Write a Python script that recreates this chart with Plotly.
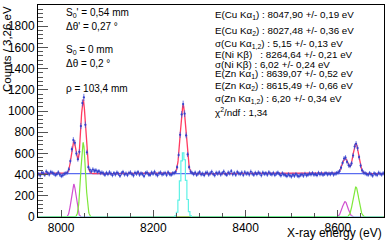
import numpy as np
import plotly.graph_objects as go

# ---------------- data ----------------
E_START = 7950.0
BIN_WIDTH = 3.26
counts = [
    405, 392, 418, 412, 398, 428, 414, 402, 424, 417, 409, 396, 404, 421, 400, 386, 393, 407,
    412, 420, 450, 528, 640, 726, 700, 598, 545, 615, 858, 1075, 1128, 870, 610, 470, 445, 430,
    448, 435, 440, 425, 432, 415, 420,
    411, 398, 416, 405, 422, 409, 394, 413, 402, 419,
    407, 388, 412, 424, 401, 410, 396, 415, 420, 404,
    392, 417, 408, 423, 399, 411, 405, 386, 414, 420,
    402, 397, 418, 409, 425, 403, 393, 412, 419, 401,
    408, 415, 396, 421, 405, 398, 411,
    414, 425, 470, 585, 775, 968, 1065, 975, 770, 590, 470, 428, 415,
    404, 418, 397, 411, 423, 402, 409, 395, 416, 420,
    399, 412, 426, 405, 393, 417, 408, 421, 400, 413,
    428, 406, 397, 419, 410, 432, 403, 415, 398, 424,
    411, 405, 419, 396, 422, 408, 414, 401, 427, 409,
    398, 416, 404, 420, 411, 393, 418, 406, 413, 399,
    421, 407, 402, 415, 396, 410, 418, 404, 392, 412,
    400, 395, 386, 403, 391, 382, 398, 388, 405, 390,
    384, 396, 401, 389, 407, 393, 398, 410, 402, 414,
    399, 405, 395, 416, 403, 411, 398, 407, 413, 402,
    409, 404, 415, 400, 408,
    413, 420, 432, 465, 510, 552, 560, 520, 488, 482, 505, 580, 665, 690, 650, 565, 485, 440, 420, 412,
    405, 398, 414, 402, 390, 411, 404, 396, 417, 408, 400, 412,
]

# fit results (component centres / widths from the stats box, amplitudes)
background = 410
ka1_centres = [8047.90, 8639.07]
ka1_amps = [700, 283]
ka2_centres = [8027.48, 8615.49]
ka2_amps = [310, 145]
ka_sigmas = [5.15, 6.20]
ni_centre = 8264.64
ni_sigma = 6.02
ni_amp = 645

# Ni K-beta component histogram (cyan), starting bin index and values
ni_hist_start = 91
ni_hist_vals = [12, 45, 160, 340, 530, 605, 540, 345, 165, 50, 12]

left_text = ["S<sub>0</sub>' = 0,54 mm", "Δθ' = 0,27 °", "S<sub>0</sub> = 0 mm", "Δθ = 0,2 °", "ρ = 103,4 mm"]
right_text = [
    "E(Cu Kα<sub>1</sub>) : 8047,90 +/- 0,19 eV",
    "E(Cu Kα<sub>2</sub>) : 8027,48 +/- 0,36 eV",
    "σ(Cu Kα<sub>1,2</sub>) : 5,15 +/- 0,13 eV",
    "E(Ni Kβ)\u00a0\u00a0\u00a0: 8264,64 +/- 0,21 eV",
    "σ(Ni Kβ) : 6,02 +/- 0,24 eV",
    "E(Zn Kα<sub>1</sub>) : 8639,07 +/- 0,52 eV",
    "E(Zn Kα<sub>2</sub>) : 8615,49 +/- 0,66 eV",
    "σ(Zn Kα<sub>1,2</sub>) : 6,20 +/- 0,34 eV",
    "χ<sup>2</sup>/ndf : 1,34",
]

# ---------------- figure ----------------
W, H = 387, 241
L, R, T, B = 38, 3, 5, 24
X_RANGE = [7950, 8700]
Y_RANGE = [0, 2000]
PW, PH = W - L - R, H - T - B

n = len(counts)
centres = E_START + BIN_WIDTH * (np.arange(n) + 0.5)

xf = np.linspace(X_RANGE[0], X_RANGE[1], 1500)


def gauss(x, mu, s, a):
    return a * np.exp(-0.5 * ((x - mu) / s) ** 2)


ka1 = sum(gauss(xf, c, s, a) for c, s, a in zip(ka1_centres, ka_sigmas, ka1_amps))
ka2 = sum(gauss(xf, c, s, a) for c, s, a in zip(ka2_centres, ka_sigmas, ka2_amps))
ni = gauss(xf, ni_centre, ni_sigma, ni_amp)
total = background + ka1 + ka2 + ni

ni_hist = [0] * ni_hist_start + ni_hist_vals
ni_hist += [0] * (n - len(ni_hist))

fig = go.Figure()
fig.add_trace(go.Scatter(x=xf, y=[background] * len(xf), mode="lines",
                         line=dict(color="#5a6cf0", width=1.3)))
fig.add_trace(go.Scatter(x=xf, y=ka2, mode="lines", line=dict(color="#d050d0", width=1.2)))
fig.add_trace(go.Scatter(x=xf, y=ka1, mode="lines", line=dict(color="#7ee83a", width=1.2)))
fig.add_trace(go.Scatter(x=list(centres), y=ni_hist, mode="lines", line_shape="hvh",
                         line=dict(color="#5ef2e6", width=1.2)))
fig.add_trace(go.Scatter(x=xf, y=total, mode="lines", line=dict(color="#ff3a60", width=1.3)))
fig.add_trace(go.Scatter(x=list(centres), y=counts, mode="markers",
                         marker=dict(color="#3341cc", size=2.2),
                         error_y=dict(type="sqrt", color="#4a58d8", thickness=0.8, width=0)))


def px(xp):
    return (xp - L) / PW


def py(yp):
    return (H - B - yp) / PH


anns = []
for txt, yp in zip(left_text, [13, 26, 50, 63, 88]):
    anns.append(dict(x=px(64), y=py(yp), xref="paper", yref="paper",
                     text=txt, showarrow=False, xanchor="left", yanchor="middle",
                     font=dict(size=10, color="black")))
for txt, yp in zip(right_text, [15, 31, 44, 55, 64, 74, 86, 99, 112]):
    anns.append(dict(x=px(213), y=py(yp), xref="paper", yref="paper",
                     text=txt, showarrow=False, xanchor="left", yanchor="middle",
                     font=dict(size=9.8, color="black")))
anns.append(dict(x=1, y=py(233), xref="paper", yref="paper",
                 text="X-ray energy (eV)", showarrow=False, xanchor="right", yanchor="middle",
                 font=dict(size=12, color="black")))
anns.append(dict(x=px(7), y=py(4), xref="paper", yref="paper",
                 text="Counts / 3,26 eV", showarrow=False, xanchor="center", yanchor="top",
                 textangle=-90, font=dict(size=11.5, color="black")))

fig.update_layout(
    width=W, height=H, margin=dict(l=L, r=R, t=T, b=B, autoexpand=False),
    paper_bgcolor="white", plot_bgcolor="white", showlegend=False,
    font=dict(family="Liberation Sans, Arial, sans-serif", color="black"),
    annotations=anns,
)
fig.update_xaxes(range=X_RANGE, automargin=False, showgrid=False, zeroline=False, showline=True, mirror=True,
                 linecolor="black", linewidth=1, ticks="inside", ticklen=7, tickwidth=1,
                 tickcolor="#555", dtick=200, tick0=8000, tickfont=dict(size=12),
                 minor=dict(ticks="inside", ticklen=4, dtick=50, tickcolor="#555"))
fig.update_yaxes(range=Y_RANGE, automargin=False, showgrid=False, zeroline=False, showline=True, mirror=True,
                 linecolor="black", linewidth=1, ticks="inside", ticklen=10, tickwidth=1,
                 tickcolor="#555", dtick=200, tickfont=dict(size=12),
                 minor=dict(ticks="inside", ticklen=5, dtick=40, tickcolor="#555"))

fig.write_html("out.html", config={"displayModeBar": False},
               post_script="document.body.style.margin='0';document.body.style.padding='0';")
